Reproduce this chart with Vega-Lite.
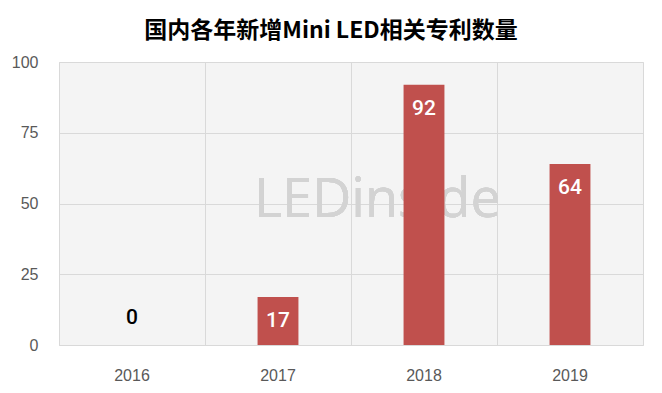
{
  "$schema": "https://vega.github.io/schema/vega-lite/v6.json",
  "width": 584,
  "height": 283,
  "autosize": {"type": "none"},
  "padding": {"left": 59, "top": 62, "right": 19, "bottom": 48},
  "background": "white",
  "title": {
    "text": "国内各年新增Mini LED相关专利数量",
    "font": "Noto Sans CJK SC",
    "fontSize": 23,
    "fontWeight": "bold",
    "color": "#000000",
    "anchor": "middle",
    "offset": 11,
    "dx": -20
  },
  "config": {
    "view": {"fill": "#f4f4f4", "stroke": "#d9d9d9", "strokeWidth": 1},
    "axis": {
      "labelFont": "Liberation Sans",
      "labelFontSize": 16,
      "labelColor": "#595959",
      "gridColor": "#d9d9d9",
      "gridWidth": 1,
      "domain": false,
      "ticks": false,
      "title": null
    }
  },
  "data": {
    "values": [
      {"year": "2016", "count": 0},
      {"year": "2017", "count": 17},
      {"year": "2018", "count": 92},
      {"year": "2019", "count": 64}
    ]
  },
  "encoding": {
    "x": {
      "field": "year",
      "type": "nominal",
      "sort": null,
      "scale": {"domain": ["2016", "2017", "2018", "2019"], "paddingInner": 0, "paddingOuter": 0},
      "axis": {"labelAngle": 0, "labelPadding": 22, "grid": true, "bandPosition": 0, "labelBound": false}
    },
    "y": {
      "field": "count",
      "type": "quantitative",
      "scale": {"domain": [0, 100], "nice": false},
      "axis": {"values": [0, 25, 50, 75, 100], "labelPadding": 21, "grid": true}
    }
  },
  "layer": [
    {
      "mark": {"type": "text", "text": "LEDinside", "font": "Open Sans", "fontSize": 54, "color": "#d3d3d3", "align": "left", "baseline": "middle", "dx": -24},
      "encoding": {
        "x": {"datum": "2017"},
        "y": {"datum": 51}
      }
    },
    {
      "mark": {"type": "bar", "color": "#C0504D", "width": {"band": 0.28}}
    },
    {
      "transform": [{"filter": "datum.count > 0"}],
      "mark": {"type": "text", "color": "#ffffff", "font": "Roboto", "fontWeight": 500, "fontSize": 21, "baseline": "top", "dy": 13},
      "encoding": {"text": {"field": "count", "type": "quantitative"}}
    },
    {
      "transform": [{"filter": "datum.count == 0"}],
      "mark": {"type": "text", "color": "#000000", "font": "Roboto", "fontWeight": 500, "fontSize": 21, "baseline": "bottom", "dy": -17},
      "encoding": {"text": {"field": "count", "type": "quantitative"}}
    }
  ]
}
